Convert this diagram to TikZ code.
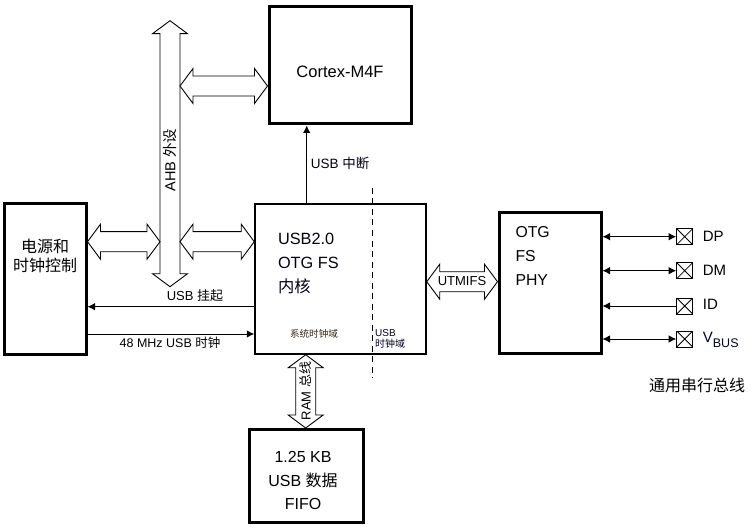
\documentclass[tikz,border=0pt]{standalone}
\usepackage{fontspec}
\setmainfont{Liberation Sans}
\newfontfamily\cjk{Noto Sans CJK SC}
\usetikzlibrary{arrows.meta,calc}

\tikzset{
  thickbox/.style={draw, line width=3pt, inner sep=0pt},
  corebox/.style={draw, line width=1.5pt, inner sep=0pt},
  pinbox/.style={draw, line width=1pt, minimum size=16pt, inner sep=0pt,
    path picture={\draw[line width=0.8pt] (path picture bounding box.south west) -- (path picture bounding box.north east)
      (path picture bounding box.north west) -- (path picture bounding box.south east);}},
  sig/.style={line width=0.9pt, -{Latex[length=7.5pt,width=7.5pt]}},
  sigboth/.style={line width=0.9pt, {Latex[length=7.5pt,width=7.5pt]}-{Latex[length=7.5pt,width=7.5pt]}},
  bus/.style={draw, fill=white, line width=0.9pt, line join=miter},
  lbl/.style={inner sep=0pt, font=\fontsize{13}{15}\selectfont},
}

% hollow double arrows: left/top end, right/bottom end
\newcommand{\hbus}[2]{%
  \draw[bus] (#1) -- ++(13,-17.5) -- ++(0,7.5) -- ($(#2)+(-13,-10)$) -- ++(0,-7.5) -- (#2)
    -- ++(-13,17.5) -- ++(0,-7.5) -- ($(#1)+(13,10)$) -- ++(0,7.5) -- cycle;}
\newcommand{\vbus}[2]{%
  \draw[bus] (#1) -- ++(17.5,13) -- ++(-7.5,0) -- ($(#2)+(10,-13)$) -- ++(7.5,0) -- (#2)
    -- ++(-17.5,-13) -- ++(7.5,0) -- ($(#1)+(-10,13)$) -- ++(-7.5,0) -- cycle;}

\begin{document}
\begin{tikzpicture}[x=1pt, y=-1pt]
\useasboundingbox (0,0) rectangle (753,532);

% main blocks
\node[thickbox, minimum width=142pt, minimum height=117pt] (cortex) at (340,65.5) {};
\node[font=\fontsize{16.5}{20}\selectfont] (cortextxt) at (340,72) {Cortex-M4F};
\node[thickbox, minimum width=82pt, minimum height=150pt] (pwr) at (45,279) {};
\node[align=center, font=\fontsize{16}{19.3}\selectfont\cjk] (pwrtxt) at (45,256) {电源和\\时钟控制};
\node[corebox, minimum width=171pt, minimum height=150pt] (core) at (340.5,279) {};
\node[anchor=west, align=left, font=\fontsize{16.3}{24}\selectfont, text=black!92!blue] (coretxt) at (274.5,263.5)
  {USB2.0\\OTG FS\\{\cjk 内核}};
\node[thickbox, minimum width=102pt, minimum height=141pt] (phy) at (550,283) {};
\node[anchor=west, align=left, font=\fontsize{15.8}{24}\selectfont] (phytxt) at (512,256) {OTG\\FS\\PHY};
\node[thickbox, minimum width=114pt, minimum height=93pt] (fifo) at (306.5,476) {};
\node[align=center, font=\fontsize{16}{23.5}\selectfont] (fifotxt) at (303,480.5) {1.25 KB\\USB {\cjk 数据}\\FIFO};

% clock domains
\coordinate (domtop) at (372.3,188);
\coordinate (dombot) at (372.3,378);
\draw[line width=1pt, dash pattern=on 6pt off 4.5pt] (domtop) -- (dombot);
\node[lbl, font=\fontsize{9.6}{11}\selectfont\cjk, text=black!70!brown] (sysdom) at (314,334) {系统时钟域};
\node[lbl, anchor=west, align=left, font=\fontsize{10}{11}\selectfont, text=black!85!blue] (usbdom) at (375,338.5) {USB\\{\cjk 时钟域}};

% AHB bus
\coordinate (ahbtop) at (170,20.7);
\coordinate (ahbbot) at (170,286.7);
\vbus{ahbtop}{ahbbot}
\node[lbl, rotate=90, font=\fontsize{14.5}{16}\selectfont] (ahbtxt) at (170,160) {AHB {\cjk 外设}};
\hbus{180,86}{cortex.west |- 0,86}
\hbus{pwr.east |- 0,241.7}{160,241.7}
\hbus{180,241.7}{core.west |- 0,241.7}

% UTMIFS and RAM bus
\hbus{core.east |- 0,281.7}{phy.west |- 0,281.7}
\node[lbl, font=\fontsize{13}{15}\selectfont] (utmi) at (462,281.5) {UTMIFS};
\coordinate (ramx) at (305.7,0);
\vbus{core.south -| ramx}{fifo.north -| ramx}
\node[lbl, rotate=90] (ramtxt) at (305.7,391) {RAM {\cjk 总线}};

% signals
\draw[sig] ($(core.west)+(0,27.7)$) -- ($(pwr.east)+(0,27.7)$);
\node[lbl] (suspend) at (195,296) {USB {\cjk 挂起}};
\draw[sig] ($(pwr.east)+(0,55)$) -- ($(core.west)+(0,55)$);
\node[lbl, font=\fontsize{12.5}{15}\selectfont] (clk48) at (170,343) {48 MHz USB {\cjk 时钟}};
\coordinate (intx) at (306.7,0);
\draw[sig] (core.north -| intx) -- (cortex.south -| intx);
\node[lbl, anchor=west, font=\fontsize{13.5}{15}\selectfont, text=black!92!blue] (usbint) at (310.7,163) {USB {\cjk 中断}};

% USB pins
\node[pinbox] (dp) at (684.7,236.7) {};
\node[pinbox] (dm) at (684.7,270.7) {};
\node[pinbox] (id) at (684.7,306) {};
\node[pinbox] (vbus) at (684.7,339) {};
\draw[sigboth] (phy.east |- dp) -- (dp);
\draw[sigboth] (phy.east |- dm) -- (dm);
\draw[sig] (id) -- (phy.east |- id);
\draw[sigboth] (phy.east |- vbus) -- (vbus);
\node[lbl, anchor=west, font=\fontsize{15}{17}\selectfont] (dptxt) at (702.7,236.7) {DP};
\node[lbl, anchor=west, font=\fontsize{15}{17}\selectfont] (dmtxt) at (702.7,270.7) {DM};
\node[lbl, anchor=west, font=\fontsize{15}{17}\selectfont] (idtxt) at (702.7,304.5) {ID};
\node[lbl, anchor=base west, font=\fontsize{15}{17}\selectfont, text=black!85!blue] (vbustxt) at (702.7,342.5)
  {V\raisebox{-4.5pt}{\fontsize{12.5}{14}\selectfont BUS}};
\node[lbl, font=\fontsize{16}{18}\selectfont\cjk] (usbname) at (697,385) {通用串行总线};
\end{tikzpicture}
\end{document}
